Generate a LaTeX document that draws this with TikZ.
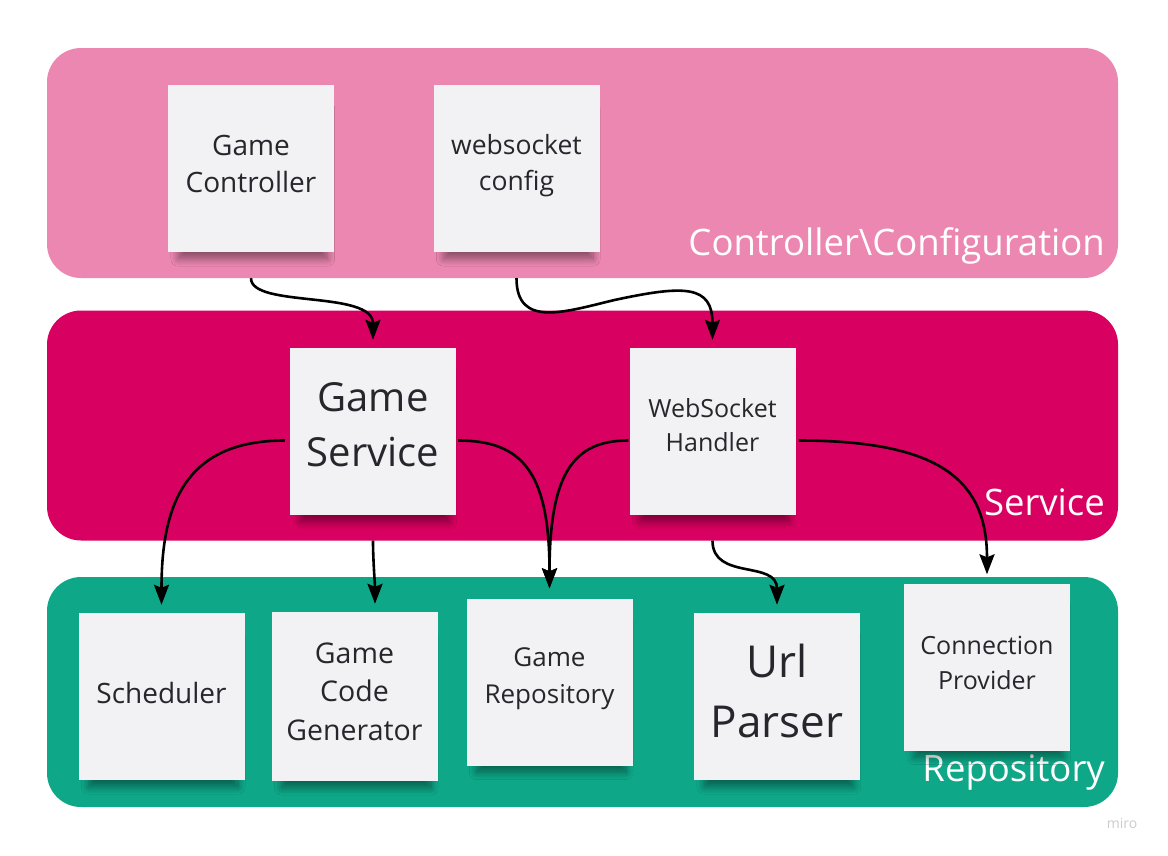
\documentclass[tikz,border=0pt]{standalone}
\usepackage{fontspec}
\setmainfont{Open Sans}
\usetikzlibrary{arrows.meta,positioning,calc,shadows.blur}
\definecolor{bandPink}{RGB}{236,135,177}
\definecolor{bandMagenta}{RGB}{216,0,96}
\definecolor{bandTeal}{RGB}{14,168,137}
\definecolor{noteFill}{RGB}{242,242,245}
\definecolor{noteText}{RGB}{38,38,44}
\tikzset{
  % wide rounded layer bands
  layerband/.style={rounded corners=34pt, minimum width=1071pt, minimum height=230pt, inner sep=0pt},
  % sticky notes with a soft drop shadow
  sticky/.style={fill=noteFill, minimum width=166pt, minimum height=167pt, inner sep=0pt,
    blur shadow={shadow blur steps=16, shadow opacity=42, shadow xshift=2pt,
                 shadow yshift=-17pt, shadow scale=0.9, shadow blur radius=8pt}},
  % text set on a note
  stickytxt/.style={align=center, text=noteText, inner sep=0pt},
  % layer captions
  bandlbl/.style={text=white, anchor=base east, inner sep=0pt, font=\fontsize{36.5}{44}\selectfont},
  % connectors
  flowln/.style={-{Stealth[length=20pt,width=15pt,inset=3pt]}, line width=2.6pt, black},
}

\begin{document}
\begin{tikzpicture}[x=1pt, y=-1pt, font=\fontsize{28}{37}\selectfont]
  \useasboundingbox[fill=white] (0,0) rectangle (1168,855);
  % layers
  \node[layerband, fill=bandPink] (ctrlband) at (582.5,163) {};
  \node[layerband, fill=bandMagenta] (svcband) at (582.5,425.5) {};
  \node[layerband, fill=bandTeal] (repoband) at (582.5,692) {};
  \node[bandlbl] (ctrllbl) at (1105,255) {Controller\textbackslash Configuration};
  \node[bandlbl] (svclbl) at (1105,515) {Service};
  \node[bandlbl] (repolbl) at (1105,781) {Repository};
  % controller layer
  \node[sticky] (gc) at (251,168.5) {};
  \node[stickytxt] (gct) at ([yshift=4.5pt]gc.center) {Game\\Controller};
  \node[sticky] (wc) at (516.5,168.5) {};
  \node[stickytxt, font=\fontsize{26.5}{36}\selectfont] (wct) at ([yshift=3pt]wc.center) {websocket\\config};
  % service layer
  \node[sticky] (gs) at (373,431.5) {};
  \node[stickytxt, font=\fontsize{40}{55}\selectfont] (gst) at ([yshift=7pt]gs.center) {Game\\Service};
  \node[sticky] (wh) at (712.5,431.5) {};
  \node[stickytxt, font=\fontsize{25}{34}\selectfont] (wht) at ([yshift=6pt]wh.center) {WebSocket\\Handler};
  % repository layer
  \node[sticky] (sch) at (161.5,696.5) {};
  \node[stickytxt] (scht) at ([yshift=4pt]sch.center) {Scheduler};
  \node[sticky, minimum height=169pt] (gcg) at (354.5,696.5) {};
  \node[stickytxt, font=\fontsize{28.5}{38.5}\selectfont] (gcgt) at ([yshift=5pt]gcg.center) {Game\\Code\\Generator};
  \node[sticky] (grp) at (549.5,682) {};
  \node[stickytxt, font=\fontsize{26}{37}\selectfont] (grpt) at ([yshift=3pt]grp.center) {Game\\Repository};
  \node[sticky] (up) at (777,696.5) {};
  \node[stickytxt, font=\fontsize{44}{60}\selectfont] (upt) at ([yshift=6pt]up.center) {Url\\Parser};
  \node[sticky] (cp) at (987,667) {};
  \node[stickytxt, font=\fontsize{25}{35}\selectfont] (cpt) at ([yshift=4.5pt]cp.center) {Connection\\Provider};
  % watermark
  \node[text=gray!40, font=\fontsize{14}{16}\selectfont] (miro) at (1122,823) {miro};
  % controller -> service
  \draw[flowln] (gc.south |- ctrlband.south) .. controls +(0,30) and +(0,-50) .. ([yshift=8pt]gs.north);
  \draw[flowln] (wc.south |- ctrlband.south) .. controls +(0,50) and +(-50,12) .. ($(wc.south)!0.5!(wh.north)$)
    .. controls +(70,-15) and +(0,-55) .. ([yshift=8pt]wh.north);
  % service -> repository
  \draw[flowln] ([xshift=-5pt,yshift=-9pt]gs.west) .. controls +(-100,0) and +(0,-100) .. ([yshift=8pt]sch.north);
  \draw[flowln] (gs.south |- svcband.south) .. controls +(0,20) and +(0,-20) .. ($(gs.south |- gcg.north)+(2,-8)$);
  \draw[flowln] ([xshift=2pt,yshift=-9pt]gs.east) .. controls +(65,0) and +(0,-115) .. ([yshift=10pt]grp.north);
  \draw[flowln] ([xshift=-1pt,yshift=-9pt]wh.west) .. controls +(-55,0) and +(0,-115) .. ([yshift=10pt]grp.north);
  \draw[flowln] (wh.south |- svcband.south) .. controls +(0,40) and +(0,-45) .. ([yshift=8pt]up.north);
  \draw[flowln] ([xshift=3pt,yshift=-9pt]wh.east) .. controls +(140,0) and +(0,-95) .. ([yshift=9pt]cp.north);
\end{tikzpicture}
\end{document}
